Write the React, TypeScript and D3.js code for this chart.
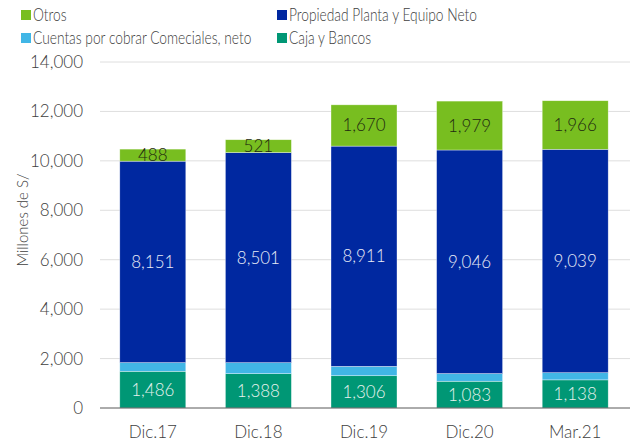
import React from "react";
import * as d3 from "d3";

const categories = ["Dic.17", "Dic.18", "Dic.19", "Dic.20", "Mar.21"];
const caja = [1486, 1388, 1306, 1083, 1138];
const cuentas = [350, 445, 380, 310, 290];
const propiedad = [8151, 8501, 8911, 9046, 9039];
const otros = [488, 521, 1670, 1979, 1966];
const yTicks = [0, 2000, 4000, 6000, 8000, 10000, 12000, 14000];

const seriesDefs = [
  { key: "caja", name: "Caja y Bancos", values: caja, color: "#009775", label: true, labelColor: "#e6f2ee" },
  { key: "cuentas", name: "Cuentas por cobrar Comeciales, neto", values: cuentas, color: "#41b6e6", label: false, labelColor: "#fff" },
  { key: "propiedad", name: "Propiedad Planta y Equipo Neto", values: propiedad, color: "#0028a0", label: true, labelColor: "#e8ecf7" },
  { key: "otros", name: "Otros", values: otros, color: "#78be20", label: true, labelColor: "#1f2a10" },
];

const legendItems = [
  { name: "Otros", color: "#78be20", x: 21, y: 15 },
  { name: "Propiedad Planta y Equipo Neto", color: "#0028a0", x: 277, y: 15 },
  { name: "Cuentas por cobrar Comeciales, neto", color: "#41b6e6", x: 21, y: 38 },
  { name: "Caja y Bancos", color: "#009775", x: 277, y: 38 },
];

const FONT = "Lato, 'Open Sans', sans-serif";

export default function App() {
  const W = 633, H = 442;
  const left = 100, right = 628, top = 62, bottom = 408;
  const x = d3.scaleBand<string>().domain(categories).range([left, right]).paddingInner(0.375).paddingOuter(0.1875);
  const y = d3.scaleLinear().domain([0, 14000]).range([bottom, top]);
  const fmt = d3.format(",");

  const rows = categories.map((c, i) => {
    const r: any = { cat: c };
    seriesDefs.forEach((s) => (r[s.key] = s.values[i]));
    return r;
  });
  const stacked = d3.stack<any>().keys(seriesDefs.map((s) => s.key))(rows);

  return (
    <svg width={W} height={H} style={{ position: "absolute", left: 0, top: 0, background: "#fff" }} fontFamily={FONT}>
      {yTicks.map((t) => (
        <g key={t}>
          {t > 0 && <line x1={left} x2={right + 2} y1={y(t)} y2={y(t)} stroke="#dedede" strokeWidth={1} />}
          <text x={83} y={y(t)} dy="0.35em" textAnchor="end" fontSize={17} fontWeight={300} fill="#404040">
            {fmt(t)}
          </text>
        </g>
      ))}
      <text transform={`translate(28,${(top + bottom) / 2 - 15}) rotate(-90)`} textAnchor="middle" fontSize={15} fontWeight={300} fill="#404040">
        Millones de S/
      </text>
      {stacked.map((layer, li) => {
        const s = seriesDefs[li];
        return (
          <g key={s.key}>
            {layer.map((d, i) => {
              const cat = categories[i];
              const y0 = y(d[0]), y1 = y(d[1]);
              return (
                <g key={cat}>
                  <rect x={x(cat)} width={x.bandwidth()} y={y1} height={y0 - y1} fill={s.color} stroke="#ffffff" strokeWidth={0.6} strokeOpacity={0.6} />
                  {s.label && (
                    <text x={(x(cat) as number) + x.bandwidth() / 2} y={(y0 + y1) / 2} dy="0.35em" textAnchor="middle" fontSize={17} fontWeight={300} fill={s.labelColor}>
                      {fmt(s.values[i])}
                    </text>
                  )}
                </g>
              );
            })}
          </g>
        );
      })}
      <line x1={left} x2={right + 2} y1={bottom} y2={bottom} stroke="#595959" strokeWidth={1} />
      {categories.map((c) => (
        <text key={c} x={(x(c) as number) + x.bandwidth() / 2} y={432} dy="0.35em" textAnchor="middle" fontSize={17} fontWeight={300} fill="#404040">
          {c}
        </text>
      ))}
      {legendItems.map((l) => (
        <g key={l.name}>
          <rect x={l.x} y={l.y - 5} width={10} height={10} fill={l.color} />
          <text transform={`translate(${l.x + 12},${l.y}) scale(0.81,1)`} dy="0.35em" fontSize={17} fontWeight={300} fill="#404040">
            {l.name}
          </text>
        </g>
      ))}
    </svg>
  );
}
